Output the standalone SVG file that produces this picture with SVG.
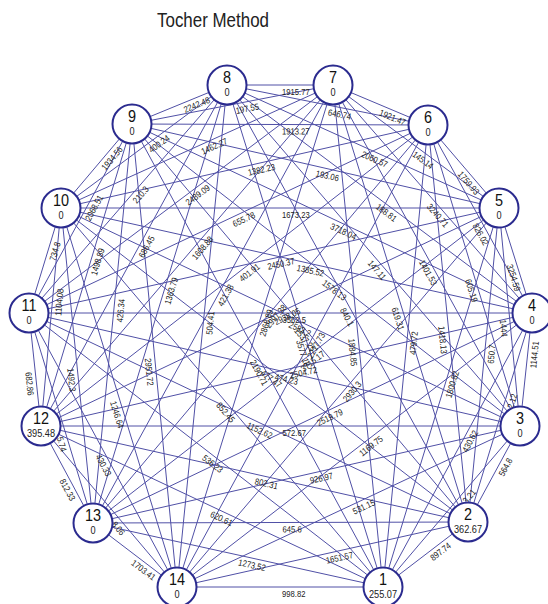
<svg xmlns="http://www.w3.org/2000/svg" width="548" height="604" viewBox="0 0 548 604">
<style>
.e line{stroke:#5050a6;stroke-width:1}
.w{font-family:"Liberation Sans",Arial,sans-serif;font-size:9px;fill:#222}
.n circle{fill:#fff;stroke:#2b2b8f;stroke-width:2}
.lab{font-family:"Liberation Sans",Arial,sans-serif;font-size:17px;text-anchor:middle;fill:#111}
.val{font-family:"Liberation Sans",Arial,sans-serif;font-size:10px;text-anchor:middle;fill:#222}
.t{font-family:"Liberation Sans",Arial,sans-serif;font-size:21px;fill:#222}
</style>
<rect width="548" height="604" fill="#fff"/>
<text class="t" x="157" y="27" textLength="112" lengthAdjust="spacingAndGlyphs">Tocher Method</text>
<g id="connectors" class="e">
<line x1="383" y1="587" x2="468" y2="522"/><line x1="383" y1="587" x2="520" y2="426"/><line x1="383" y1="587" x2="532" y2="313"/><line x1="383" y1="587" x2="499" y2="208"/><line x1="383" y1="587" x2="428" y2="125"/><line x1="383" y1="587" x2="333" y2="85"/><line x1="383" y1="587" x2="227" y2="85"/><line x1="383" y1="587" x2="132" y2="124"/><line x1="383" y1="587" x2="61" y2="208"/><line x1="383" y1="587" x2="29" y2="313"/><line x1="383" y1="587" x2="41" y2="426"/><line x1="383" y1="587" x2="93" y2="523"/><line x1="383" y1="587" x2="177" y2="587"/>
<line x1="468" y1="522" x2="520" y2="426"/><line x1="468" y1="522" x2="532" y2="313"/><line x1="468" y1="522" x2="499" y2="208"/><line x1="468" y1="522" x2="428" y2="125"/><line x1="468" y1="522" x2="333" y2="85"/><line x1="468" y1="522" x2="227" y2="85"/><line x1="468" y1="522" x2="132" y2="124"/><line x1="468" y1="522" x2="61" y2="208"/><line x1="468" y1="522" x2="29" y2="313"/><line x1="468" y1="522" x2="41" y2="426"/><line x1="468" y1="522" x2="93" y2="523"/><line x1="468" y1="522" x2="177" y2="587"/>
<line x1="520" y1="426" x2="532" y2="313"/><line x1="520" y1="426" x2="499" y2="208"/><line x1="520" y1="426" x2="428" y2="125"/><line x1="520" y1="426" x2="333" y2="85"/><line x1="520" y1="426" x2="227" y2="85"/><line x1="520" y1="426" x2="132" y2="124"/><line x1="520" y1="426" x2="61" y2="208"/><line x1="520" y1="426" x2="29" y2="313"/><line x1="520" y1="426" x2="41" y2="426"/><line x1="520" y1="426" x2="93" y2="523"/><line x1="520" y1="426" x2="177" y2="587"/>
<line x1="532" y1="313" x2="499" y2="208"/><line x1="532" y1="313" x2="428" y2="125"/><line x1="532" y1="313" x2="333" y2="85"/><line x1="532" y1="313" x2="227" y2="85"/><line x1="532" y1="313" x2="132" y2="124"/><line x1="532" y1="313" x2="61" y2="208"/><line x1="532" y1="313" x2="29" y2="313"/><line x1="532" y1="313" x2="41" y2="426"/><line x1="532" y1="313" x2="93" y2="523"/><line x1="532" y1="313" x2="177" y2="587"/>
<line x1="499" y1="208" x2="428" y2="125"/><line x1="499" y1="208" x2="333" y2="85"/><line x1="499" y1="208" x2="227" y2="85"/><line x1="499" y1="208" x2="132" y2="124"/><line x1="499" y1="208" x2="61" y2="208"/><line x1="499" y1="208" x2="29" y2="313"/><line x1="499" y1="208" x2="41" y2="426"/><line x1="499" y1="208" x2="93" y2="523"/><line x1="499" y1="208" x2="177" y2="587"/>
<line x1="428" y1="125" x2="333" y2="85"/><line x1="428" y1="125" x2="227" y2="85"/><line x1="428" y1="125" x2="132" y2="124"/><line x1="428" y1="125" x2="61" y2="208"/><line x1="428" y1="125" x2="29" y2="313"/><line x1="428" y1="125" x2="41" y2="426"/><line x1="428" y1="125" x2="93" y2="523"/><line x1="428" y1="125" x2="177" y2="587"/>
<line x1="333" y1="85" x2="227" y2="85"/><line x1="333" y1="85" x2="132" y2="124"/><line x1="333" y1="85" x2="61" y2="208"/><line x1="333" y1="85" x2="29" y2="313"/><line x1="333" y1="85" x2="41" y2="426"/><line x1="333" y1="85" x2="93" y2="523"/><line x1="333" y1="85" x2="177" y2="587"/>
<line x1="227" y1="85" x2="132" y2="124"/><line x1="227" y1="85" x2="61" y2="208"/><line x1="227" y1="85" x2="29" y2="313"/><line x1="227" y1="85" x2="41" y2="426"/><line x1="227" y1="85" x2="93" y2="523"/><line x1="227" y1="85" x2="177" y2="587"/>
<line x1="132" y1="124" x2="61" y2="208"/><line x1="132" y1="124" x2="29" y2="313"/><line x1="132" y1="124" x2="41" y2="426"/><line x1="132" y1="124" x2="93" y2="523"/><line x1="132" y1="124" x2="177" y2="587"/>
<line x1="61" y1="208" x2="29" y2="313"/><line x1="61" y1="208" x2="41" y2="426"/><line x1="61" y1="208" x2="93" y2="523"/><line x1="61" y1="208" x2="177" y2="587"/>
<line x1="29" y1="313" x2="41" y2="426"/><line x1="29" y1="313" x2="93" y2="523"/><line x1="29" y1="313" x2="177" y2="587"/>
<line x1="41" y1="426" x2="93" y2="523"/><line x1="41" y1="426" x2="177" y2="587"/>
<line x1="93" y1="523" x2="177" y2="587"/>
</g>
<g id="edge-labels" class="w">
<text transform="translate(425.5 554.5) rotate(-37.41) scale(0.85 1)" x="2.4" y="10">897.74</text>
<text transform="translate(494 474) rotate(-61.56) scale(0.85 1)" x="2.4" y="10">564.8</text>
<text transform="translate(526 369.5) rotate(-83.94) scale(0.85 1)" x="2.4" y="10">1144.51</text>
<text transform="translate(515.5 260.5) rotate(72.55) scale(0.85 1)" x="2.4" y="10">3254.59</text>
<text transform="translate(463.5 166.5) rotate(49.45) scale(0.85 1)" x="2.4" y="10">1759.93</text>
<text transform="translate(380.5 105) rotate(22.83) scale(0.85 1)" x="2.4" y="10">1921.47</text>
<text transform="translate(280 85) rotate(0) scale(0.85 1)" x="2.4" y="10">1915.77</text>
<text transform="translate(179.5 104.5) rotate(-22.32) scale(0.85 1)" x="2.4" y="10">2242.48</text>
<text transform="translate(96.5 166) rotate(-49.8) scale(0.85 1)" x="2.4" y="10">1934.56</text>
<text transform="translate(45 260.5) rotate(-73.05) scale(0.85 1)" x="2.4" y="10">734.8</text>
<text transform="translate(35 369.5) rotate(83.94) scale(0.85 1)" x="2.4" y="10">682.86</text>
<text transform="translate(67 474.5) rotate(61.8) scale(0.85 1)" x="2.4" y="10">812.33</text>
<text transform="translate(135 555) rotate(37.3) scale(0.85 1)" x="2.4" y="10">1703.41</text>
<text transform="translate(280 587) rotate(0) scale(0.85 1)" x="2.4" y="10">998.82</text>
<text transform="translate(451.5 506.5) rotate(-49.61) scale(0.85 1)" x="14" y="10">3.21</text>
<text transform="translate(500 417.5) rotate(-72.97) scale(0.85 1)" x="14" y="10">2.12</text>
<text transform="translate(509.5 317) rotate(84.5) scale(0.85 1)" x="2.4" y="10">1444</text>
<text transform="translate(480 219) rotate(61.05) scale(0.85 1)" x="2.4" y="10">826.02</text>
<text transform="translate(416 146.5) rotate(36.54) scale(0.85 1)" x="2.4" y="10">145.14</text>
<text transform="translate(327.5 105) rotate(11.25) scale(0.85 1)" x="2.4" y="10">646.74</text>
<text transform="translate(232.5 104.5) rotate(-10.98) scale(0.85 1)" x="2.4" y="10">197.55</text>
<text transform="translate(144 146.5) rotate(-36.54) scale(0.85 1)" x="2.4" y="10">400.24</text>
<text transform="translate(80.5 218.5) rotate(-61.41) scale(0.85 1)" x="2.4" y="10">2068.51</text>
<text transform="translate(51 317) rotate(-84.76) scale(0.85 1)" x="2.4" y="10">1104.08</text>
<text transform="translate(61 418) rotate(73.05) scale(0.85 1)" x="21" y="10">5.74</text>
<text transform="translate(109 506.5) rotate(49.81) scale(0.85 1)" x="18" y="10">8.06</text>
<text transform="translate(238 555) rotate(12.44) scale(0.85 1)" x="2.4" y="10">1273.52</text>
<text transform="translate(322.5 554.5) rotate(-12.59) scale(0.85 1)" x="2.4" y="10">1651.57</text>
<text transform="translate(457.5 450) rotate(-61.47) scale(0.85 1)" x="2.4" y="10">430.62</text>
<text transform="translate(483.5 365) rotate(-84.36) scale(0.85 1)" x="2.4" y="10">650.7</text>
<text transform="translate(474 275.5) rotate(73) scale(0.85 1)" x="2.4" y="10">605.19</text>
<text transform="translate(432.5 199) rotate(48.89) scale(0.85 1)" x="2.4" y="10">3240.71</text>
<text transform="translate(363 146.5) rotate(24.33) scale(0.85 1)" x="2.4" y="10">2060.57</text>
<text transform="translate(280 124.5) rotate(0.19) scale(0.85 1)" x="2.4" y="10">1913.27</text>
<text transform="translate(197 146.5) rotate(-24.33) scale(0.85 1)" x="2.4" y="10">1462.27</text>
<text transform="translate(128 199) rotate(-49.03) scale(0.85 1)" x="2.4" y="10">210.3</text>
<text transform="translate(86.5 275) rotate(-73.23) scale(0.85 1)" x="2.4" y="10">1498.89</text>
<text transform="translate(77 365.5) rotate(84.2) scale(0.85 1)" x="2.4" y="10">1492.3</text>
<text transform="translate(103 450) rotate(61.62) scale(0.85 1)" x="2.4" y="10">430.33</text>
<text transform="translate(212 506.5) rotate(25.21) scale(0.85 1)" x="2.4" y="10">620.61</text>
<text transform="translate(280.5 522.5) rotate(-0.15) scale(0.85 1)" x="2.4" y="10">645.6</text>
<text transform="translate(348.5 506.5) rotate(-25.14) scale(0.85 1)" x="2.4" y="10">531.15</text>
<text transform="translate(441 397.5) rotate(-72.98) scale(0.85 1)" x="2.4" y="10">1800.82</text>
<text transform="translate(448 323.5) rotate(84.25) scale(0.85 1)" x="2.4" y="10">1418.13</text>
<text transform="translate(426.5 255.5) rotate(61.26) scale(0.85 1)" x="2.4" y="10">1401.53</text>
<text transform="translate(379.5 199) rotate(36.78) scale(0.85 1)" x="2.4" y="10">188.81</text>
<text transform="translate(315.5 166) rotate(12.89) scale(0.85 1)" x="2.4" y="10">193.06</text>
<text transform="translate(244.5 166.5) rotate(-12.74) scale(0.85 1)" x="2.4" y="10">1382.23</text>
<text transform="translate(181 199) rotate(-36.87) scale(0.85 1)" x="2.4" y="10">2489.09</text>
<text transform="translate(134 255.5) rotate(-61.39) scale(0.85 1)" x="2.4" y="10">686.45</text>
<text transform="translate(112.5 323.5) rotate(-84.42) scale(0.85 1)" x="2.4" y="10">426.34</text>
<text transform="translate(119 397.5) rotate(72.98) scale(0.85 1)" x="2.4" y="10">1246.64</text>
<text transform="translate(206 450) rotate(37.74) scale(0.85 1)" x="2.4" y="10">536.23</text>
<text transform="translate(254.5 474) rotate(12.67) scale(0.85 1)" x="2.4" y="10">802.31</text>
<text transform="translate(306.5 474.5) rotate(-12.8) scale(0.85 1)" x="2.4" y="10">926.97</text>
<text transform="translate(354.5 450) rotate(-37.66) scale(0.85 1)" x="2.4" y="10">1169.75</text>
<text transform="translate(405.5 356) rotate(-84.44) scale(0.85 1)" x="2.4" y="10">479.72</text>
<text transform="translate(400.5 303.5) rotate(72.83) scale(0.85 1)" x="2.4" y="10">619.31</text>
<text transform="translate(373.5 255.5) rotate(49.33) scale(0.85 1)" x="2.4" y="10">147.11</text>
<text transform="translate(332 218.5) rotate(25.29) scale(0.85 1)" x="2.4" y="10">3718.04</text>
<text transform="translate(280 208) rotate(0) scale(0.85 1)" x="2.4" y="10">1673.23</text>
<text transform="translate(228.5 219) rotate(-25.23) scale(0.85 1)" x="2.4" y="10">655.78</text>
<text transform="translate(187 255.5) rotate(-49.43) scale(0.85 1)" x="2.4" y="10">1608.88</text>
<text transform="translate(160 304) rotate(-72.99) scale(0.85 1)" x="2.4" y="10">1363.79</text>
<text transform="translate(154.5 355.5) rotate(84.45) scale(0.85 1)" x="2.4" y="10">2951.72</text>
<text transform="translate(222 397.5) rotate(49.65) scale(0.85 1)" x="2.4" y="10">852.45</text>
<text transform="translate(248.5 417.5) rotate(25.46) scale(0.85 1)" x="2.4" y="10">1152.62</text>
<text transform="translate(280.5 426) rotate(0) scale(0.85 1)" x="2.4" y="10">572.67</text>
<text transform="translate(312.5 418) rotate(-25.56) scale(0.85 1)" x="2.4" y="10">2519.79</text>
<text transform="translate(338 397.5) rotate(-49.65) scale(0.85 1)" x="2.4" y="10">2930.3</text>
<text transform="translate(358 336) rotate(84.31) scale(0.85 1)" x="2.4" y="10">1884.85</text>
<text transform="translate(347.5 303.5) rotate(61.12) scale(0.85 1)" x="2.4" y="10">840.1</text>
<text transform="translate(326 275) rotate(37.9) scale(0.85 1)" x="2.4" y="10">1578.13</text>
<text transform="translate(296.5 260.5) rotate(12.57) scale(0.85 1)" x="2.4" y="10">1385.52</text>
<text transform="translate(264 260.5) rotate(-12.59) scale(0.85 1)" x="2.4" y="10">2450.37</text>
<text transform="translate(234.5 275.5) rotate(-37.87) scale(0.85 1)" x="2.4" y="10">401.91</text>
<text transform="translate(213 304) rotate(-61.28) scale(0.85 1)" x="2.4" y="10">421.38</text>
<text transform="translate(202 336) rotate(-84.31) scale(0.85 1)" x="2.4" y="10">504.41</text>
<text transform="translate(257.5 355.5) rotate(61.53) scale(0.85 1)" x="2.4" y="10">2190.71</text>
<text transform="translate(264.5 365) rotate(37.65) scale(0.85 1)" x="2.4" y="10">477.47</text>
<text transform="translate(274.5 369.5) rotate(12.96) scale(0.85 1)" x="2.4" y="10">474.23</text>
<text transform="translate(286.5 369.5) rotate(-12.96) scale(0.85 1)" x="2.4" y="10">2504.72</text>
<text transform="translate(296 365.5) rotate(-37.81) scale(0.85 1)" x="2.4" y="10">3715.17</text>
<text transform="translate(302.5 356) rotate(-61.48) scale(0.85 1)" x="2.4" y="10">2217.73</text>
<text transform="translate(305 336) rotate(72.74) scale(0.85 1)" x="2.4" y="10">3577.18</text>
<text transform="translate(300 323) rotate(49.83) scale(0.85 1)" x="2.4" y="10">1537.25</text>
<text transform="translate(290.5 317) rotate(25.4) scale(0.85 1)" x="2.4" y="10">2583.2</text>
<text transform="translate(280.5 313) rotate(0) scale(0.85 1)" x="2.4" y="10">3562.5</text>
<text transform="translate(270 317) rotate(-25.45) scale(0.85 1)" x="2.4" y="10">2938.05</text>
<text transform="translate(260.5 324) rotate(-49.91) scale(0.85 1)" x="2.4" y="10">2997.38</text>
<text transform="translate(255 336) rotate(-72.74) scale(0.85 1)" x="2.4" y="10">2868.89</text>
</g>
<g id="node1" class="n" transform="translate(383 587)"><circle r="19.5"/><text class="lab" y="-2" transform="scale(0.85 1)">1</text><text class="val" y="11" transform="scale(0.92 1)">255.07</text></g>
<g id="node2" class="n" transform="translate(468 522)"><circle r="19.5"/><text class="lab" y="-2" transform="scale(0.85 1)">2</text><text class="val" y="11" transform="scale(0.92 1)">362.67</text></g>
<g id="node3" class="n" transform="translate(520 426)"><circle r="19.5"/><text class="lab" y="-2" transform="scale(0.85 1)">3</text><text class="val" y="11" transform="scale(0.92 1)">0</text></g>
<g id="node4" class="n" transform="translate(532 313)"><circle r="19.5"/><text class="lab" y="-2" transform="scale(0.85 1)">4</text><text class="val" y="11" transform="scale(0.92 1)">0</text></g>
<g id="node5" class="n" transform="translate(499 208)"><circle r="19.5"/><text class="lab" y="-2" transform="scale(0.85 1)">5</text><text class="val" y="11" transform="scale(0.92 1)">0</text></g>
<g id="node6" class="n" transform="translate(428 125)"><circle r="19.5"/><text class="lab" y="-2" transform="scale(0.85 1)">6</text><text class="val" y="11" transform="scale(0.92 1)">0</text></g>
<g id="node7" class="n" transform="translate(333 85)"><circle r="19.5"/><text class="lab" y="-2" transform="scale(0.85 1)">7</text><text class="val" y="11" transform="scale(0.92 1)">0</text></g>
<g id="node8" class="n" transform="translate(227 85)"><circle r="19.5"/><text class="lab" y="-2" transform="scale(0.85 1)">8</text><text class="val" y="11" transform="scale(0.92 1)">0</text></g>
<g id="node9" class="n" transform="translate(132 124)"><circle r="19.5"/><text class="lab" y="-2" transform="scale(0.85 1)">9</text><text class="val" y="11" transform="scale(0.92 1)">0</text></g>
<g id="node10" class="n" transform="translate(61 208)"><circle r="19.5"/><text class="lab" y="-2" transform="scale(0.85 1)">10</text><text class="val" y="11" transform="scale(0.92 1)">0</text></g>
<g id="node11" class="n" transform="translate(29 313)"><circle r="19.5"/><text class="lab" y="-2" transform="scale(0.85 1)">11</text><text class="val" y="11" transform="scale(0.92 1)">0</text></g>
<g id="node12" class="n" transform="translate(41 426)"><circle r="19.5"/><text class="lab" y="-2" transform="scale(0.85 1)">12</text><text class="val" y="11" transform="scale(0.92 1)">395.48</text></g>
<g id="node13" class="n" transform="translate(93 523)"><circle r="19.5"/><text class="lab" y="-2" transform="scale(0.85 1)">13</text><text class="val" y="11" transform="scale(0.92 1)">0</text></g>
<g id="node14" class="n" transform="translate(177 587)"><circle r="19.5"/><text class="lab" y="-2" transform="scale(0.85 1)">14</text><text class="val" y="11" transform="scale(0.92 1)">0</text></g>
</svg>
